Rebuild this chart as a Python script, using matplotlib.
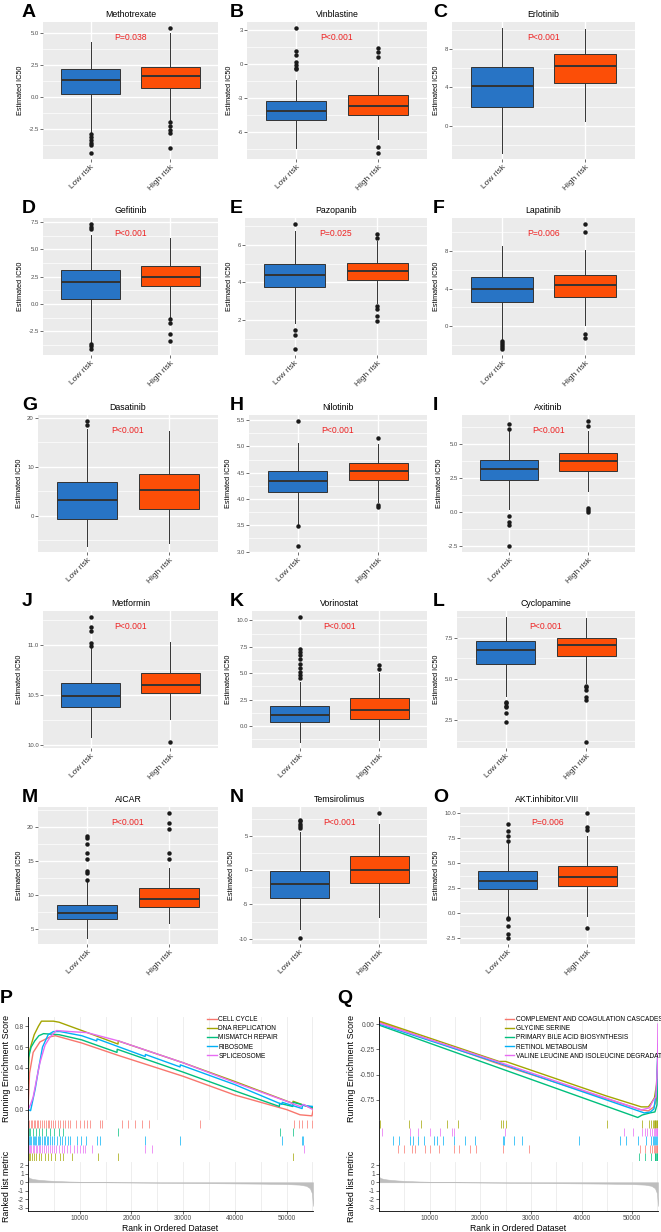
import numpy as np
import matplotlib
matplotlib.use('Agg')
import matplotlib.pyplot as plt
from matplotlib.ticker import AutoMinorLocator, FixedLocator, MultipleLocator

plt.rcParams['font.family'] = ['Liberation Sans', 'DejaVu Sans']

# ---------------- drug sensitivity boxplots
drugs = ['Methotrexate', 'Vinblastine', 'Erlotinib', 'Gefitinib', 'Pazopanib', 'Lapatinib',
         'Dasatinib', 'Nilotinib', 'Axitinib', 'Metformin', 'Vorinostat', 'Cyclopamine',
         'AICAR', 'Temsirolimus', 'AKT.inhibitor.VIII']
panel_letters = list('ABCDEFGHIJKLMNO')
p_labels = ['P=0.038', 'P<0.001', 'P<0.001', 'P<0.001', 'P=0.025', 'P=0.006',
            'P<0.001', 'P<0.001', 'P<0.001', 'P<0.001', 'P<0.001', 'P<0.001',
            'P<0.001', 'P<0.001', 'P=0.006']
groups = ['Low risk', 'High risk']

# [lower whisker, Q1, median, Q3, upper whisker]
low_box = [[-2.85, 0.19, 1.32, 2.16, 4.34], [-7.44, -4.92, -4.18, -3.24, -1.39],
           [-2.83, 1.99, 4.17, 6.12, 10.2], [-3.49, 0.48, 2.05, 3.1, 6.33],
           [1.84, 3.75, 4.39, 5.0, 6.73], [-1.32, 2.57, 3.98, 5.2, 8.49],
           [-6.1, -0.67, 3.2, 6.94, 17.76], [3.53, 4.13, 4.35, 4.54, 5.07],
           [0.19, 2.31, 3.11, 3.77, 6.0], [10.08, 10.38, 10.49, 10.62, 10.97],
           [-1.5, 0.35, 1.05, 1.9, 4.2], [3.94, 5.92, 6.73, 7.28, 8.74],
           [3.67, 6.37, 7.25, 8.43, 11.83], [-8.55, -4.0, -2.07, -0.14, 5.6],
           [-0.3, 2.44, 3.27, 4.24, 7.0]]
low_out = [[-2.95, -3.16, -3.4, -3.67, -3.8, -4.4], [3.2, 1.17, 0.82, 0.23, -0.06, -0.3, -0.44],
           [], [7.3, 7.08, 6.9, -3.64, -3.85, -4.1],
           [7.1, 1.45, 1.17, 0.46], [-1.5, -1.74, -1.95, -2.2, -2.37],
           [19.3, 18.6], [5.48, 3.48, 3.11],
           [6.46, 6.08, -0.29, -0.73, -0.95, -2.5], [11.28, 11.18, 11.14, 11.02, 10.99],
           [4.5, 4.8, 5.1, 5.5, 5.9, 6.3, 6.7, 7.0, 7.3, 10.3], [3.63, 3.53, 3.37, 3.28, 2.92, 2.37],
           [18.6, 18.3, 17.4, 16.2, 15.3, 13.5, 13.2, 12.1], [6.1, 6.4, 6.8, 7.1, 7.3, -9.85],
           [8.9, 8.24, 7.75, 7.25, -0.45, -0.6, -1.29, -2.05, -2.45]]
high_box = [[-1.84, 0.71, 1.63, 2.37, 5.0], [-6.68, -4.48, -3.75, -2.72, -0.21],
            [0.52, 4.46, 6.25, 7.48, 10.1], [-1.26, 1.69, 2.5, 3.49, 6.01],
            [2.91, 4.12, 4.59, 5.02, 6.19], [0.17, 3.13, 4.39, 5.47, 8.07],
            [-5.6, 1.3, 5.37, 8.6, 17.3], [3.94, 4.37, 4.53, 4.68, 5.04],
            [1.53, 3.03, 3.71, 4.29, 5.94], [10.26, 10.52, 10.6, 10.72, 11.03],
            [-1.3, 0.65, 1.55, 2.6, 5.0], [4.74, 6.4, 7.03, 7.5, 8.7],
            [5.88, 8.23, 9.4, 11.0, 13.98], [-6.78, -1.84, 0.0, 2.0, 6.8],
            [-0.3, 2.68, 3.67, 4.76, 7.75]]
high_out = [[5.4, -1.97, -2.3, -2.6, -2.87, -4.0], [1.41, 1.12, 0.67, -7.38, -7.88],
            [], [-1.41, -1.71, -2.77, -3.37],
            [6.56, 6.37, 2.73, 2.6, 2.2, 1.94], [10.8, 9.93, -0.8, -1.25],
            [], [5.16, 3.88, 3.85],
            [6.65, 6.3, 0.31, 0.15, 0.0], [10.03],
            [5.4, 5.8], [4.6, 4.5, 4.3, 3.9, 3.75, 1.19],
            [22.0, 20.6, 19.75, 16.1, 15.3], [8.3],
            [10.0, 8.58, 8.35, -1.52]]
y_ticks = [[-2.5, 0, 2.5, 5.0], [-6, -3, 0, 3], [0, 4, 8], [-2.5, 0, 2.5, 5.0, 7.5],
           [2, 4, 6], [0, 4, 8], [0, 10, 20], [3.0, 3.5, 4.0, 4.5, 5.0, 5.5],
           [-2.5, 0, 2.5, 5.0], [10.0, 10.5, 11.0], [0, 2.5, 5.0, 7.5, 10.0],
           [2.5, 5.0, 7.5], [5, 10, 15, 20], [-10, -5, 0, 5], [-2.5, 0, 2.5, 5.0, 7.5, 10.0]]

# ---------------- GSEA panels
gsea_xmax = 55100
rank_ticks = [10000, 20000, 30000, 40000, 50000]
metric_rank = [0, 300, 1000, 2000, 3500, 5000, 8000, 12000, 17000, 22000, 30000, 38000,
               45000, 50000, 52500, 53800, 54500, 54900, 55100]
metric_val = [0.65, 0.5, 0.38, 0.3, 0.22, 0.16, 0.09, 0.03, -0.01, -0.04, -0.08, -0.12,
              -0.16, -0.21, -0.28, -0.42, -0.7, -1.3, -2.8]

p_names = ['CELL CYCLE', 'DNA REPLICATION', 'MISMATCH REPAIR', 'RIBOSOME', 'SPLICEOSOME']
p_cc_x = [0, 300, 1000, 2300, 4300, 5300, 10400, 17500, 30000, 40000, 50000, 52600, 54900, 55100]
p_cc_y = [0.0, 0.35, 0.55, 0.65, 0.70, 0.71, 0.64, 0.52, 0.32, 0.14, 0.0, -0.05, -0.06, -0.01]
p_dna_x = [0, 200, 600, 1200, 2000, 2600, 4900, 6000, 10400, 17400, 17450, 30000, 40000, 51200, 51250, 55100]
p_dna_y = [0.25, 0.55, 0.62, 0.72, 0.80, 0.85, 0.85, 0.84, 0.76, 0.63, 0.66, 0.45, 0.27, 0.06, 0.08, 0.01]
p_mmr_x = [0, 100, 600, 1300, 2100, 3000, 6000, 10400, 17200, 17250, 30000, 40000, 48600, 48650, 51200, 51250, 55100]
p_mmr_y = [0.3, 0.5, 0.6, 0.66, 0.71, 0.73, 0.72, 0.67, 0.55, 0.58, 0.36, 0.18, 0.03, 0.06, 0.03, 0.07, 0.02]
p_ribo_x = [0, 500, 1400, 2000, 2800, 3900, 4900, 6200, 10400, 13300, 13350, 22650, 22700, 29400, 29450,
            40000, 49100, 49150, 53000, 53050, 55100]
p_ribo_y = [0.0, -0.01, 0.2, 0.38, 0.6, 0.72, 0.75, 0.75, 0.71, 0.66, 0.68, 0.51, 0.53, 0.41, 0.43,
            0.24, 0.05, 0.07, 0.01, 0.04, 0.03]
p_spl_x = [0, 500, 1000, 1700, 2300, 3300, 4300, 5500, 8100, 11400, 17500, 30000, 40000, 50000, 52600, 53300, 55100]
p_spl_y = [0.0, 0.05, 0.12, 0.3, 0.45, 0.62, 0.7, 0.76, 0.75, 0.74, 0.66, 0.45, 0.26, 0.08, 0.03, 0.05, 0.0]

p_cc_hits = [200, 500, 800, 1100, 1400, 1700, 2000, 2300, 2700, 3000, 3400, 3800, 4100, 4500, 4900,
             5300, 5800, 6200, 6700, 7200, 7700, 8100, 9290, 10060, 10840, 11480, 12000, 13930, 14260,
             18130, 19420, 20710, 22000, 23480, 33290, 51350, 52320, 52970, 53940, 54910]
p_mmr_hits = [150, 400, 900, 1500, 2200, 2800, 3500, 4300, 5100, 5900, 6700, 17480, 48640, 51230]
p_ribo_hits = [150, 350, 600, 900, 1100, 1300, 1600, 1900, 2100, 2400, 2700, 3000, 3300, 3600, 3900,
               4300, 4700, 5100, 5600, 6100, 6600, 7100, 7700, 8100, 9420, 10260, 11230, 13290, 13930,
               22650, 29420, 49100, 52970, 53100]
p_spl_hits = [150, 400, 650, 900, 1200, 1500, 1800, 2100, 2400, 2700, 3000, 3400, 3800, 4200, 4600,
              5000, 5500, 6000, 6500, 7000, 7600, 8200, 8800, 9400, 10000, 10600, 11100, 12320,
              22650, 23940, 53290]
p_dna_hits = [150, 450, 800, 1200, 1600, 2100, 2600, 3200, 3800, 4500, 5300, 6100, 6800, 8450,
              13610, 17480, 51230]

q_names = ['COMPLEMENT AND COAGULATION CASCADES', 'GLYCINE SERINE', 'PRIMARY BILE ACID BIOSYNTHESIS',
           'RETINOL METABOLISM', 'VALINE LEUCINE AND ISOLEUCINE DEGRADATION']
q_comp_x = [0, 24500, 51800, 53200, 54300, 54800, 55100]
q_comp_y = [0.02, -0.41, -0.85, -0.86, -0.82, -0.75, -0.45]
q_gly_x = [0, 23700, 25000, 44800, 51800, 53200, 53800, 54400, 54800, 55100]
q_gly_y = [0.03, -0.37, -0.37, -0.71, -0.82, -0.82, -0.78, -0.73, -0.6, -0.3]
q_bile_x = [0, 51100, 52000, 53500, 54500, 54900, 55100]
q_bile_y = [-0.01, -0.925, -0.9, -0.88, -0.87, -0.8, -0.55]
q_ret_x = [0, 24500, 52400, 53600, 54300, 54800, 55100]
q_ret_y = [0.0, -0.40, -0.88, -0.87, -0.84, -0.65, -0.2]
q_val_x = [0, 24500, 51800, 53400, 54100, 54700, 55000, 55100]
q_val_y = [0.01, -0.39, -0.85, -0.83, -0.76, -0.72, -0.4, 0.0]

q_gly_hits = [200, 5950, 8270, 13430, 15610, 24010, 24470, 25000, 44970, 51920, 53240, 53640, 54100,
              54300, 54430, 54600, 54760, 54900, 55000]
q_val_hits = [530, 6150, 7610, 9990, 11970, 14420, 14880, 24800, 48480, 50130, 51920, 52450, 52980,
              53440, 53900, 54300, 54500, 54760, 54900, 55000]
q_ret_hits = [2710, 3970, 6150, 6680, 7610, 8800, 10780, 11440, 12570, 14880, 16930, 19050, 24470,
              24670, 26650, 28310, 39550, 47690, 48810, 51130, 52780, 53640, 54100, 54400, 54560,
              54750, 54960, 55050]
q_comp_hits = [3840, 4960, 6480, 7140, 9130, 10120, 11770, 14750, 15740, 18060, 19180, 24540, 29630,
               51460, 52450, 53440, 53900, 54300, 54500, 54760, 54900, 55000]
q_bile_hits = [51260, 52450, 53770, 54430, 54600, 54760, 54900, 55000]

hue5 = ['#F8766D', '#A3A500', '#00BF7D', '#00B0F6', '#E76BF3']

W, H = 661, 1232
fig = plt.figure(figsize=(W / 100, H / 100), dpi=100)


def px_axes(x0, y0, x1, y1):
    return fig.add_axes([x0 / W, 1 - y1 / H, (x1 - x0) / W, (y1 - y0) / H])


# boxplot layout in pixels
row_tops = [22, 218, 415, 611, 807]
panel_h = 137
panel_left = [43, 247, 452, 43, 245, 452, 38, 249, 462, 43, 252, 457, 38, 252, 460]
col_right = [218, 427, 635]
letter_x = [22, 230, 433]

for i, drug in enumerate(drugs):
    r, c = divmod(i, 3)
    ax = px_axes(panel_left[i], row_tops[r], col_right[c], row_tops[r] + panel_h)
    ax.set_facecolor('#EBEBEB')
    for s in ax.spines.values():
        s.set_visible(False)
    ax.set_axisbelow(True)

    stats = []
    for box, out in ((low_box[i], low_out[i]), (high_box[i], high_out[i])):
        stats.append(dict(whislo=box[0], q1=box[1], med=box[2], q3=box[3], whishi=box[4],
                          fliers=np.array(out)))
    bp = ax.bxp(stats, positions=[1, 2], widths=0.74, patch_artist=True, showcaps=False,
                boxprops=dict(edgecolor='#333333', linewidth=0.7),
                medianprops=dict(color='#333333', linewidth=1.4),
                whiskerprops=dict(color='#333333', linewidth=0.7),
                flierprops=dict(marker='o', markersize=3.2, markerfacecolor='#1a1a1a',
                                markeredgecolor='none'))
    for patch, col in zip(bp['boxes'], ['#2874C5', '#FC4E07']):
        patch.set_facecolor(col)
        patch.set_zorder(2)

    allv = low_box[i] + low_out[i] + high_box[i] + high_out[i]
    lo, hi = min(allv), max(allv)
    pad = 0.05 * (hi - lo)
    ax.set_ylim(lo - pad, hi + pad)
    ax.set_xlim(0.4, 2.6)

    ticks = y_ticks[i]
    ax.yaxis.set_major_locator(FixedLocator(ticks))
    if all(float(t).is_integer() for t in ticks):
        ax.set_yticklabels(['%d' % t for t in ticks])
    else:
        ax.set_yticklabels(['%.1f' % t for t in ticks])
    ax.yaxis.set_minor_locator(AutoMinorLocator(2))
    ax.set_xticks([1, 2])
    ax.set_xticklabels(groups, rotation=45, ha='right', va='top', rotation_mode='anchor',
                       fontsize=6, color='#333333')
    ax.grid(True, which='major', color='white', linewidth=1.0)
    ax.grid(True, which='minor', axis='y', color='white', linewidth=0.5)
    ax.tick_params(which='minor', length=0)
    ax.tick_params(axis='y', which='major', length=2, width=0.5, color='#333333',
                   labelsize=4.3, labelcolor='#4D4D4D', pad=1)
    ax.tick_params(axis='x', which='major', length=2, width=0.5, color='#333333', pad=1.5)
    ax.set_ylabel('Estimated IC50', fontsize=5.2, labelpad=3)
    ax.set_title(drug, fontsize=6.3, pad=3.5)
    ax.text(0.5, 0.885, p_labels[i], transform=ax.transAxes, ha='center', va='center',
            color='#EE2222', fontsize=6.2)
    fig.text(letter_x[c] / W, 1 - (row_tops[r] - 18) / H, panel_letters[i], fontsize=14,
             fontweight='bold', ha='left', va='top')


def gsea_panel(x0, x1, names, curves, hits, rug_colors, es_lim, es_ticks, es_labels,
               lab_x, leg_x, letter, letter_px):
    es = px_axes(x0, 1017, x1, 1120)
    rug = px_axes(x0, 1120, x1, 1161)
    rk = px_axes(x0, 1162, x1, 1211)
    for a in (es, rug, rk):
        a.set_xlim(0, gsea_xmax)
        for s in ('top', 'right'):
            a.spines[s].set_visible(False)
        a.spines['left'].set_linewidth(0.6)
        a.spines['bottom'].set_linewidth(0.6)
    for a in (es, rk):
        a.xaxis.set_major_locator(FixedLocator(rank_ticks))
        a.xaxis.set_minor_locator(MultipleLocator(5000))
        a.grid(True, which='both', axis='x', color='#EBEBEB', linewidth=0.6)
        a.set_axisbelow(True)
        a.tick_params(which='minor', length=0)
        a.tick_params(axis='both', which='major', length=2, width=0.5, color='#333333',
                      labelsize=4.8, labelcolor='#4D4D4D', pad=1)

    # running enrichment score
    for (xs, ys), name, col in zip(curves, names, hue5):
        es.plot(xs, ys, color=col, linewidth=1.0, label=name)
    es.spines['bottom'].set_visible(False)
    es.tick_params(axis='x', length=0, labelbottom=False)
    es.set_ylim(*es_lim)
    es.set_yticks(es_ticks)
    es.set_yticklabels(es_labels)
    es.set_ylabel('Running Enrichment Score', fontsize=6.4)
    es.yaxis.set_label_coords(lab_x, 0.5)
    es.legend(loc='upper left', bbox_to_anchor=(leg_x, 1.02), frameon=False, fontsize=4.7,
              handlelength=1.4, handletextpad=0.25, labelspacing=0.32, borderaxespad=0,
              borderpad=0.2)

    # gene hit positions
    nrow = len(hits)
    for k, (h, col) in enumerate(zip(hits, rug_colors)):
        rug.vlines(h, nrow - k - 1, nrow - k, color=col, linewidth=0.5)
    rug.set_ylim(0, nrow)
    rug.spines['bottom'].set_visible(False)
    rug.set_xticks([])
    rug.set_yticks([])

    # ranked list metric
    rk.fill_between(metric_rank, 0, metric_val, color='#BEBEBE', linewidth=0.4,
                    edgecolor='#BEBEBE')
    rk.set_ylim(-3.4, 2.4)
    rk.set_yticks([-3, -2, -1, 0, 1, 2])
    rk.set_yticklabels(['-3', '-2', '-1', '0', '1', '2'])
    rk.set_xticklabels([str(t) for t in rank_ticks])
    rk.set_ylabel('Ranked list metric', fontsize=6.4)
    rk.yaxis.set_label_coords(lab_x, 0.5)
    rk.set_xlabel('Rank in Ordered Dataset', fontsize=6.2, labelpad=1)
    fig.text(letter_px / W, 1 - 990 / H, letter, fontsize=14, fontweight='bold',
             ha='left', va='top')


gsea_panel(28, 313, p_names,
           [(p_cc_x, p_cc_y), (p_dna_x, p_dna_y), (p_mmr_x, p_mmr_y),
            (p_ribo_x, p_ribo_y), (p_spl_x, p_spl_y)],
           [p_cc_hits, p_mmr_hits, p_ribo_hits, p_spl_hits, p_dna_hits],
           [hue5[0], hue5[2], hue5[3], hue5[4], hue5[1]],
           (-0.1, 0.89), [0.0, 0.2, 0.4, 0.6, 0.8], ['0.0', '0.2', '0.4', '0.6', '0.8'],
           -0.058, 0.625, 'P', 0)

gsea_panel(379, 658, q_names,
           [(q_comp_x, q_comp_y), (q_gly_x, q_gly_y), (q_bile_x, q_bile_y),
            (q_ret_x, q_ret_y), (q_val_x, q_val_y)],
           [q_gly_hits, q_val_hits, q_ret_hits, q_comp_hits, q_bile_hits],
           [hue5[1], hue5[4], hue5[3], hue5[0], hue5[2]],
           (-0.95, 0.07), [-0.75, -0.5, -0.25, 0.0], ['-0.75', '-0.50', '-0.25', '0.00'],
           -0.081, 0.448, 'Q', 337)

fig.savefig('out.png', dpi=100)
